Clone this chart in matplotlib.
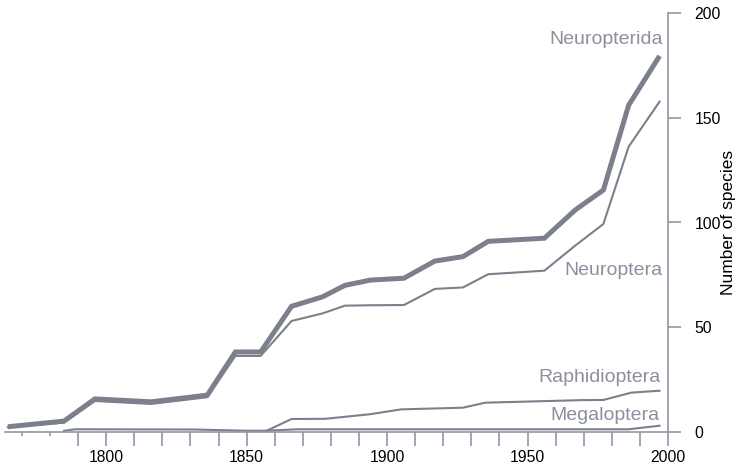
import matplotlib
matplotlib.use("Agg")
import matplotlib.pyplot as plt

plt.rcParams['font.family'] = ['Liberation Sans', 'DejaVu Sans']

# Data
years_neuropterida = [1765, 1785, 1796, 1816, 1836, 1846, 1855, 1866, 1877, 1885, 1894,
                      1906, 1917, 1927, 1936, 1956, 1967, 1977, 1986, 1997]
neuropterida = [2.5, 5.2, 15.8, 14.4, 17.6, 38.2, 38.2, 60.0, 64.5, 70.0, 72.5,
                73.4, 81.6, 83.7, 91.0, 92.5, 106, 115.5, 156, 179.5]

years_neuroptera = [1765, 1785, 1796, 1816, 1836, 1846, 1855, 1866, 1877, 1885, 1894,
                    1906, 1917, 1927, 1936, 1956, 1967, 1977, 1986, 1997]
neuroptera = [2.3, 4.5, 14.8, 13.4, 16.6, 36.3, 36.3, 53.0, 56.6, 60.3, 60.5,
              60.6, 68.3, 69.0, 75.3, 77.0, 89.0, 99.3, 136.2, 157.7]

years_raphidioptera = [1857, 1866, 1878, 1894, 1905, 1927, 1935, 1969, 1977, 1987, 1997]
raphidioptera = [0.5, 6.2, 6.3, 8.5, 10.8, 11.6, 14.0, 15.2, 15.3, 18.8, 19.7]

years_megaloptera = [1785, 1789, 1831, 1850, 1857, 1868, 1986, 1997]
megaloptera = [0.6, 1.3, 1.2, 0.6, 0.6, 1.3, 1.3, 3.0]

series_labels = ["Neuropterida", "Neuroptera", "Raphidioptera", "Megaloptera"]
label_pos = [(1998, 187.5), (1998, 77), (1997.5, 25.8), (1996.8, 8.1)]

line_color = "#7b808c"
text_color = "#8b909c"
axis_color = "#9197a6"

fig = plt.figure(figsize=(7.41, 4.69), dpi=100)
ax = fig.add_axes([5/741, (469-432)/469, (668-5)/741, (432-13)/469])

ax.plot(years_neuropterida, neuropterida, color=line_color, lw=3.6, solid_joinstyle='miter',
        solid_capstyle='butt')
ax.plot(years_neuroptera, neuroptera, color=line_color, lw=1.5)
ax.plot(years_raphidioptera, raphidioptera, color=line_color, lw=1.5)
ax.plot(years_megaloptera, megaloptera, color=line_color, lw=1.5)

for lab, (x, y) in zip(series_labels, label_pos):
    ax.text(x, y, lab, ha='right', va='center', fontsize=14, color=text_color)

ax.set_xlim(1764, 2000)
ax.set_ylim(0, 200)

for s in ['left', 'top']:
    ax.spines[s].set_visible(False)
for s in ['bottom', 'right']:
    ax.spines[s].set_color(axis_color)
    ax.spines[s].set_linewidth(1.2)

ax.yaxis.tick_right()
ax.yaxis.set_label_position('right')
ax.set_yticks([0, 50, 100, 150, 200])
ax.set_yticklabels(["0", "50", "100", "150", "200"])
ax.tick_params(axis='y', direction='out', length=9, width=1.2, color=axis_color,
               labelsize=11.3, pad=10, labelcolor='black')

ax.set_xticks([1800, 1850, 1900, 1950, 2000])
ax.set_xticklabels(["1800", "1850", "1900", "1950", "2000"])
ax.set_xticks(list(range(1790, 2000, 10)), minor=True)
ax.tick_params(axis='x', which='both', direction='out', length=10, width=1.2,
               color=axis_color, labelsize=11.3, pad=3, labelcolor='black')

# short ticks at the far left
sec = ax.secondary_xaxis('bottom')
sec.set_xticks([1770, 1780])
sec.set_xticklabels(["", ""])
sec.tick_params(direction='out', length=3, width=1.2, color=axis_color)
sec.spines['bottom'].set_visible(False)

ax.set_ylabel("Number of species", fontsize=12.5, color='black', labelpad=0)

fig.savefig("out.png", dpi=100)
